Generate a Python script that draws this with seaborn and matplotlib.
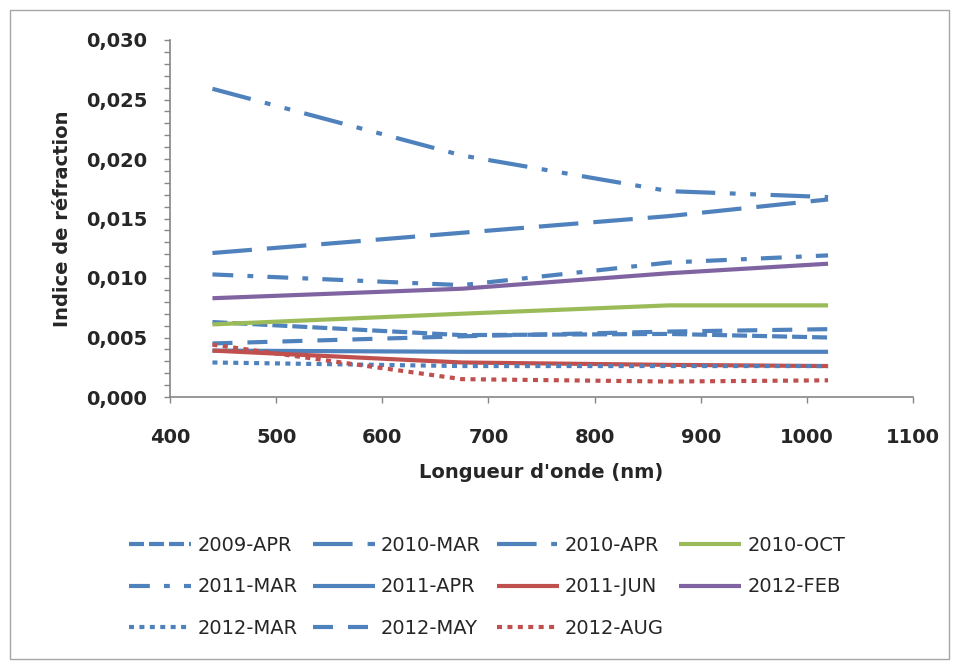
import matplotlib
matplotlib.use("Agg")
import matplotlib.pyplot as plt
from matplotlib.patches import Rectangle
from matplotlib.ticker import MultipleLocator, FuncFormatter
import seaborn as sns
import pandas as pd

# Wavelengths (nm) and imaginary refractive index per campaign
wavelength = [440, 675, 870, 1020]
apr09 = [0.0063, 0.0052, 0.0053, 0.0050]
mar10 = [0.0121, 0.0138, 0.0152, 0.0166]
apr10 = [0.0259, 0.0203, 0.0173, 0.0168]
oct10 = [0.0061, 0.0070, 0.0077, 0.0077]
mar11 = [0.0103, 0.0094, 0.0113, 0.0119]
apr11 = [0.0039, 0.0038, 0.0038, 0.0038]
jun11 = [0.0039, 0.0029, 0.0027, 0.0026]
feb12 = [0.0083, 0.0091, 0.0104, 0.0112]
mar12 = [0.0029, 0.0026, 0.0026, 0.0026]
may12 = [0.0045, 0.0051, 0.0055, 0.0057]
aug12 = [0.0044, 0.0015, 0.0013, 0.0014]

labels = ["2009-APR", "2010-MAR", "2010-APR", "2010-OCT", "2011-MAR", "2011-APR",
          "2011-JUN", "2012-FEB", "2012-MAR", "2012-MAY", "2012-AUG"]
values = [apr09, mar10, apr10, oct10, mar11, apr11, jun11, feb12, mar12, may12, aug12]

BLUE, GREEN, RED, PURPLE = "#4F81BD", "#9BBB59", "#C0504D", "#8064A2"
styles = [
    (BLUE, (0, (3.6, 1.2))),
    (BLUE, (0, (9.5, 3.6))),
    (BLUE, (0, (9.5, 3.5, 1.4, 3.5, 1.4, 3.5))),
    (GREEN, "-"),
    (BLUE, (0, (5.0, 3.4, 1.4, 3.4))),
    (BLUE, "-"),
    (RED, "-"),
    (PURPLE, "-"),
    (BLUE, (0, (1.2, 1.3))),
    (BLUE, (0, (4.8, 3.6))),
    (RED, (0, (1.2, 1.3))),
]

sns.set_theme(style="white")
plt.rcParams["font.family"] = ["DejaVu Sans"]

fig = plt.figure(figsize=(9.59, 6.64), dpi=100)
fig.patches.append(Rectangle((10 / 959, 5 / 664), 939 / 959, 649 / 664,
                             transform=fig.transFigure, fill=False,
                             edgecolor="#a6a6a6", linewidth=1.0))
ax = fig.add_axes([170 / 959, 1 - 397 / 664, (913 - 170) / 959, (397 - 40) / 664])

lines = []
for lab, vals, (col, ls) in zip(labels, values, styles):
    df = pd.DataFrame({"wl": wavelength, "k": vals})
    sns.lineplot(data=df, x="wl", y="k", ax=ax, color=col, linewidth=3.0,
                 linestyle=ls, dash_capstyle="butt", solid_capstyle="butt",
                 legend=False)
    ln = ax.get_lines()[-1]
    ln.set_label(lab)
    lines.append(ln)

ax.set_xlim(400, 1100)
ax.set_ylim(0, 0.030)
ax.xaxis.set_major_locator(MultipleLocator(100))
ax.yaxis.set_major_locator(MultipleLocator(0.005))
ax.yaxis.set_minor_locator(MultipleLocator(0.001))
ax.yaxis.set_major_formatter(FuncFormatter(lambda v, p: f"{v:.3f}".replace(".", ",")))

for side in ["top", "right"]:
    ax.spines[side].set_visible(False)
for side in ["left", "bottom"]:
    ax.spines[side].set_color("#868686")
    ax.spines[side].set_linewidth(1.2)

ax.tick_params(axis="both", which="both", direction="out", color="#868686",
               width=1.0, length=4.0, labelsize=14)
ax.tick_params(axis="both", which="major", left=True, bottom=True)
ax.tick_params(axis="y", which="both", left=True, pad=12.5)
ax.tick_params(axis="x", which="major", pad=18)
for t in ax.get_xticklabels() + ax.get_yticklabels():
    t.set_fontweight("bold")

ax.set_xlabel("Longueur d'onde (nm)", fontsize=14, fontweight="bold", labelpad=12)
ax.set_ylabel("Indice de réfraction", fontsize=14, fontweight="bold", labelpad=10)
ax.grid(False)
if ax.get_legend() is not None:
    ax.get_legend().remove()

# Legend laid out row by row in 4 columns
order = [0, 4, 8, 1, 5, 9, 2, 6, 10, 3, 7]
fig.legend([lines[i] for i in order], [labels[i] for i in order],
           loc="center", bbox_to_anchor=(0.508, 0.116), ncol=4, frameon=False,
           fontsize=14, handlelength=3.2, handletextpad=0.3, columnspacing=0.8,
           labelspacing=1.15, borderpad=0)

fig.savefig("out.png", dpi=100)
